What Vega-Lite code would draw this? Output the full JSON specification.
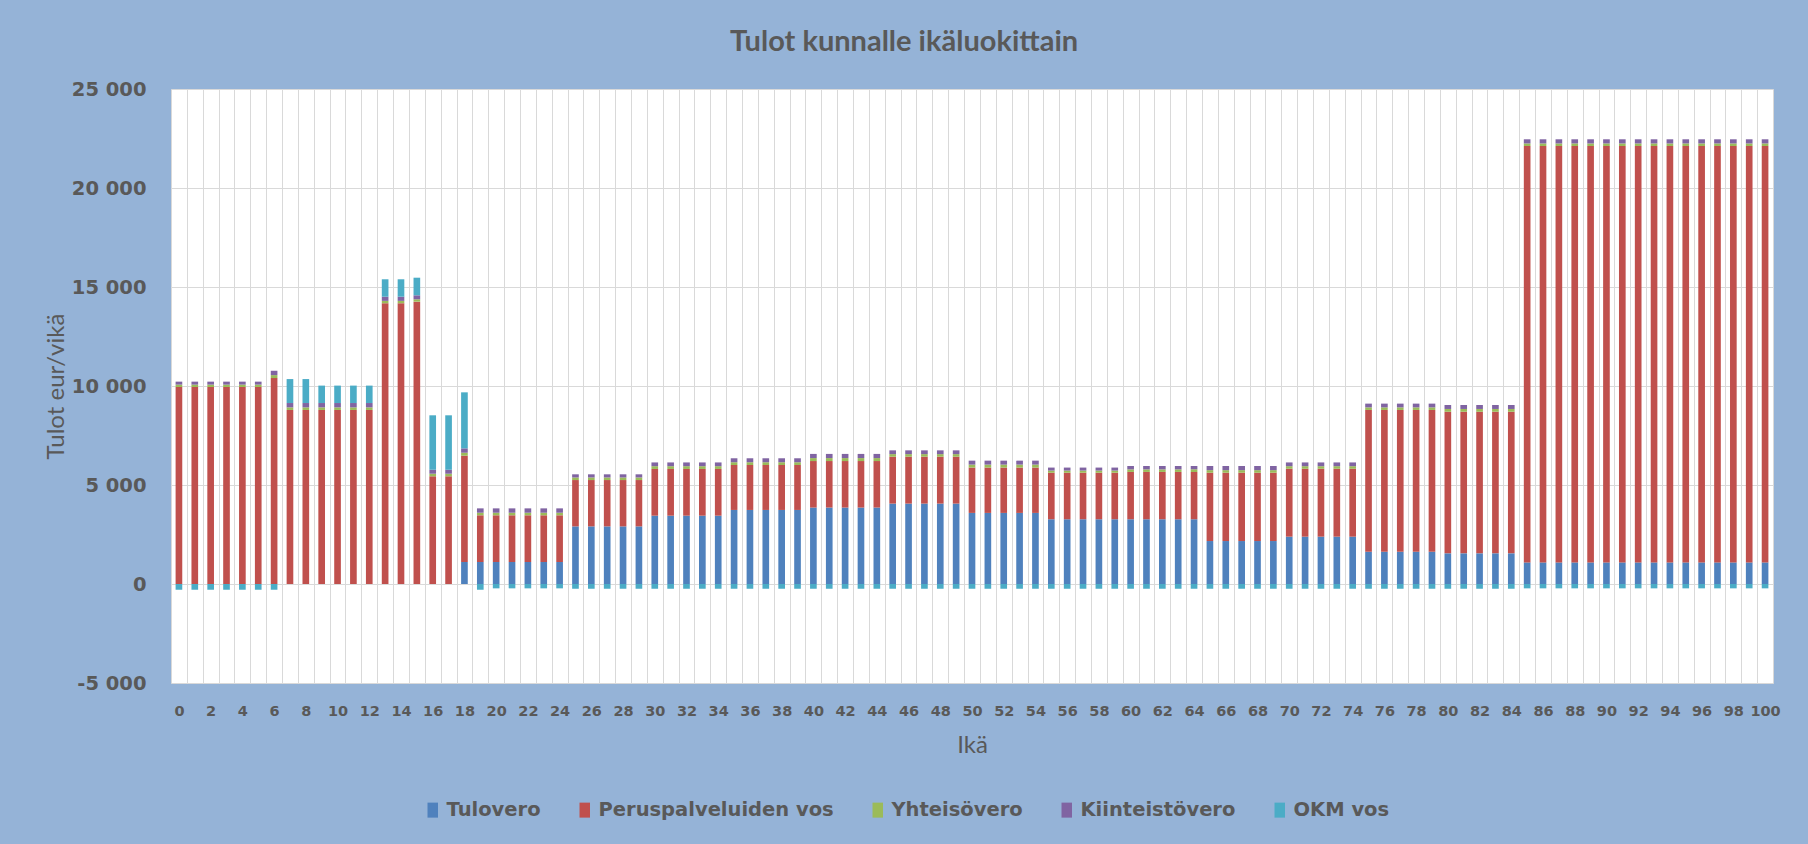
{
"$schema": "https://vega.github.io/schema/vega-lite/v6.json",
"width": 1602, "height": 594,
"autosize": {"type": "none"},
"padding": {"left": 171, "top": 89, "right": 35, "bottom": 161},
"background": "#95B3D7",
"config": {"view": {"fill": "white", "stroke": "#B0C4DE"}, "font": "Lato"},
"title": {"text": "Tulot kunnalle ikäluokittain", "fontSize": 29, "fontWeight": "bold", "color": "#595959", "anchor": "middle", "dx": -68, "offset": 22, "font": "Lato"},
"data": {"values": [
{"Ikä":0,"Tulovero":0,"Peruspalveluiden vos":9950,"Yhteisövero":120,"Kiinteistövero":150,"OKM vos":-290},
{"Ikä":1,"Tulovero":0,"Peruspalveluiden vos":9950,"Yhteisövero":120,"Kiinteistövero":150,"OKM vos":-290},
{"Ikä":2,"Tulovero":0,"Peruspalveluiden vos":9950,"Yhteisövero":120,"Kiinteistövero":150,"OKM vos":-290},
{"Ikä":3,"Tulovero":0,"Peruspalveluiden vos":9950,"Yhteisövero":120,"Kiinteistövero":150,"OKM vos":-290},
{"Ikä":4,"Tulovero":0,"Peruspalveluiden vos":9950,"Yhteisövero":120,"Kiinteistövero":150,"OKM vos":-290},
{"Ikä":5,"Tulovero":0,"Peruspalveluiden vos":9950,"Yhteisövero":120,"Kiinteistövero":150,"OKM vos":-290},
{"Ikä":6,"Tulovero":0,"Peruspalveluiden vos":10400,"Yhteisövero":150,"Kiinteistövero":220,"OKM vos":-290},
{"Ikä":7,"Tulovero":0,"Peruspalveluiden vos":8790,"Yhteisövero":130,"Kiinteistövero":220,"OKM vos":1210},
{"Ikä":8,"Tulovero":0,"Peruspalveluiden vos":8790,"Yhteisövero":130,"Kiinteistövero":220,"OKM vos":1210},
{"Ikä":9,"Tulovero":0,"Peruspalveluiden vos":8790,"Yhteisövero":130,"Kiinteistövero":220,"OKM vos":880},
{"Ikä":10,"Tulovero":0,"Peruspalveluiden vos":8790,"Yhteisövero":130,"Kiinteistövero":220,"OKM vos":880},
{"Ikä":11,"Tulovero":0,"Peruspalveluiden vos":8790,"Yhteisövero":130,"Kiinteistövero":220,"OKM vos":880},
{"Ikä":12,"Tulovero":0,"Peruspalveluiden vos":8790,"Yhteisövero":130,"Kiinteistövero":220,"OKM vos":880},
{"Ikä":13,"Tulovero":0,"Peruspalveluiden vos":14180,"Yhteisövero":120,"Kiinteistövero":210,"OKM vos":880},
{"Ikä":14,"Tulovero":0,"Peruspalveluiden vos":14180,"Yhteisövero":120,"Kiinteistövero":210,"OKM vos":880},
{"Ikä":15,"Tulovero":0,"Peruspalveluiden vos":14260,"Yhteisövero":120,"Kiinteistövero":200,"OKM vos":890},
{"Ikä":16,"Tulovero":0,"Peruspalveluiden vos":5440,"Yhteisövero":130,"Kiinteistövero":200,"OKM vos":2750},
{"Ikä":17,"Tulovero":0,"Peruspalveluiden vos":5440,"Yhteisövero":130,"Kiinteistövero":200,"OKM vos":2750},
{"Ikä":18,"Tulovero":1110,"Peruspalveluiden vos":5370,"Yhteisövero":150,"Kiinteistövero":220,"OKM vos":2830},
{"Ikä":19,"Tulovero":1110,"Peruspalveluiden vos":2360,"Yhteisövero":130,"Kiinteistövero":220,"OKM vos":-290},
{"Ikä":20,"Tulovero":1110,"Peruspalveluiden vos":2360,"Yhteisövero":130,"Kiinteistövero":220,"OKM vos":-220},
{"Ikä":21,"Tulovero":1110,"Peruspalveluiden vos":2360,"Yhteisövero":130,"Kiinteistövero":220,"OKM vos":-220},
{"Ikä":22,"Tulovero":1110,"Peruspalveluiden vos":2360,"Yhteisövero":130,"Kiinteistövero":220,"OKM vos":-220},
{"Ikä":23,"Tulovero":1110,"Peruspalveluiden vos":2360,"Yhteisövero":130,"Kiinteistövero":220,"OKM vos":-220},
{"Ikä":24,"Tulovero":1110,"Peruspalveluiden vos":2360,"Yhteisövero":130,"Kiinteistövero":220,"OKM vos":-220},
{"Ikä":25,"Tulovero":2910,"Peruspalveluiden vos":2340,"Yhteisövero":130,"Kiinteistövero":160,"OKM vos":-240},
{"Ikä":26,"Tulovero":2910,"Peruspalveluiden vos":2340,"Yhteisövero":130,"Kiinteistövero":160,"OKM vos":-240},
{"Ikä":27,"Tulovero":2910,"Peruspalveluiden vos":2340,"Yhteisövero":130,"Kiinteistövero":160,"OKM vos":-240},
{"Ikä":28,"Tulovero":2910,"Peruspalveluiden vos":2340,"Yhteisövero":130,"Kiinteistövero":160,"OKM vos":-240},
{"Ikä":29,"Tulovero":2910,"Peruspalveluiden vos":2340,"Yhteisövero":130,"Kiinteistövero":160,"OKM vos":-240},
{"Ikä":30,"Tulovero":3450,"Peruspalveluiden vos":2360,"Yhteisövero":140,"Kiinteistövero":190,"OKM vos":-240},
{"Ikä":31,"Tulovero":3450,"Peruspalveluiden vos":2360,"Yhteisövero":140,"Kiinteistövero":190,"OKM vos":-240},
{"Ikä":32,"Tulovero":3450,"Peruspalveluiden vos":2360,"Yhteisövero":140,"Kiinteistövero":190,"OKM vos":-240},
{"Ikä":33,"Tulovero":3450,"Peruspalveluiden vos":2360,"Yhteisövero":140,"Kiinteistövero":190,"OKM vos":-240},
{"Ikä":34,"Tulovero":3450,"Peruspalveluiden vos":2360,"Yhteisövero":140,"Kiinteistövero":190,"OKM vos":-240},
{"Ikä":35,"Tulovero":3740,"Peruspalveluiden vos":2270,"Yhteisövero":140,"Kiinteistövero":200,"OKM vos":-240},
{"Ikä":36,"Tulovero":3740,"Peruspalveluiden vos":2270,"Yhteisövero":140,"Kiinteistövero":200,"OKM vos":-240},
{"Ikä":37,"Tulovero":3740,"Peruspalveluiden vos":2270,"Yhteisövero":140,"Kiinteistövero":200,"OKM vos":-240},
{"Ikä":38,"Tulovero":3740,"Peruspalveluiden vos":2270,"Yhteisövero":140,"Kiinteistövero":200,"OKM vos":-240},
{"Ikä":39,"Tulovero":3740,"Peruspalveluiden vos":2270,"Yhteisövero":140,"Kiinteistövero":200,"OKM vos":-240},
{"Ikä":40,"Tulovero":3860,"Peruspalveluiden vos":2350,"Yhteisövero":150,"Kiinteistövero":210,"OKM vos":-240},
{"Ikä":41,"Tulovero":3860,"Peruspalveluiden vos":2350,"Yhteisövero":150,"Kiinteistövero":210,"OKM vos":-240},
{"Ikä":42,"Tulovero":3860,"Peruspalveluiden vos":2350,"Yhteisövero":150,"Kiinteistövero":210,"OKM vos":-240},
{"Ikä":43,"Tulovero":3860,"Peruspalveluiden vos":2350,"Yhteisövero":150,"Kiinteistövero":210,"OKM vos":-240},
{"Ikä":44,"Tulovero":3860,"Peruspalveluiden vos":2350,"Yhteisövero":150,"Kiinteistövero":210,"OKM vos":-240},
{"Ikä":45,"Tulovero":4060,"Peruspalveluiden vos":2370,"Yhteisövero":130,"Kiinteistövero":190,"OKM vos":-240},
{"Ikä":46,"Tulovero":4060,"Peruspalveluiden vos":2370,"Yhteisövero":130,"Kiinteistövero":190,"OKM vos":-240},
{"Ikä":47,"Tulovero":4060,"Peruspalveluiden vos":2370,"Yhteisövero":130,"Kiinteistövero":190,"OKM vos":-240},
{"Ikä":48,"Tulovero":4060,"Peruspalveluiden vos":2370,"Yhteisövero":130,"Kiinteistövero":190,"OKM vos":-240},
{"Ikä":49,"Tulovero":4060,"Peruspalveluiden vos":2370,"Yhteisövero":130,"Kiinteistövero":190,"OKM vos":-240},
{"Ikä":50,"Tulovero":3590,"Peruspalveluiden vos":2290,"Yhteisövero":150,"Kiinteistövero":200,"OKM vos":-240},
{"Ikä":51,"Tulovero":3590,"Peruspalveluiden vos":2290,"Yhteisövero":150,"Kiinteistövero":200,"OKM vos":-240},
{"Ikä":52,"Tulovero":3590,"Peruspalveluiden vos":2290,"Yhteisövero":150,"Kiinteistövero":200,"OKM vos":-240},
{"Ikä":53,"Tulovero":3590,"Peruspalveluiden vos":2290,"Yhteisövero":150,"Kiinteistövero":200,"OKM vos":-240},
{"Ikä":54,"Tulovero":3590,"Peruspalveluiden vos":2290,"Yhteisövero":150,"Kiinteistövero":200,"OKM vos":-240},
{"Ikä":55,"Tulovero":3270,"Peruspalveluiden vos":2350,"Yhteisövero":110,"Kiinteistövero":150,"OKM vos":-240},
{"Ikä":56,"Tulovero":3270,"Peruspalveluiden vos":2350,"Yhteisövero":110,"Kiinteistövero":150,"OKM vos":-240},
{"Ikä":57,"Tulovero":3270,"Peruspalveluiden vos":2350,"Yhteisövero":110,"Kiinteistövero":150,"OKM vos":-240},
{"Ikä":58,"Tulovero":3270,"Peruspalveluiden vos":2350,"Yhteisövero":110,"Kiinteistövero":150,"OKM vos":-240},
{"Ikä":59,"Tulovero":3270,"Peruspalveluiden vos":2350,"Yhteisövero":110,"Kiinteistövero":150,"OKM vos":-240},
{"Ikä":60,"Tulovero":3270,"Peruspalveluiden vos":2390,"Yhteisövero":130,"Kiinteistövero":170,"OKM vos":-240},
{"Ikä":61,"Tulovero":3270,"Peruspalveluiden vos":2390,"Yhteisövero":130,"Kiinteistövero":170,"OKM vos":-240},
{"Ikä":62,"Tulovero":3270,"Peruspalveluiden vos":2390,"Yhteisövero":130,"Kiinteistövero":170,"OKM vos":-240},
{"Ikä":63,"Tulovero":3270,"Peruspalveluiden vos":2390,"Yhteisövero":130,"Kiinteistövero":170,"OKM vos":-240},
{"Ikä":64,"Tulovero":3270,"Peruspalveluiden vos":2390,"Yhteisövero":130,"Kiinteistövero":170,"OKM vos":-240},
{"Ikä":65,"Tulovero":2170,"Peruspalveluiden vos":3450,"Yhteisövero":130,"Kiinteistövero":210,"OKM vos":-240},
{"Ikä":66,"Tulovero":2170,"Peruspalveluiden vos":3450,"Yhteisövero":130,"Kiinteistövero":210,"OKM vos":-240},
{"Ikä":67,"Tulovero":2170,"Peruspalveluiden vos":3450,"Yhteisövero":130,"Kiinteistövero":210,"OKM vos":-240},
{"Ikä":68,"Tulovero":2170,"Peruspalveluiden vos":3450,"Yhteisövero":130,"Kiinteistövero":210,"OKM vos":-240},
{"Ikä":69,"Tulovero":2170,"Peruspalveluiden vos":3450,"Yhteisövero":130,"Kiinteistövero":210,"OKM vos":-240},
{"Ikä":70,"Tulovero":2390,"Peruspalveluiden vos":3430,"Yhteisövero":130,"Kiinteistövero":190,"OKM vos":-240},
{"Ikä":71,"Tulovero":2390,"Peruspalveluiden vos":3430,"Yhteisövero":130,"Kiinteistövero":190,"OKM vos":-240},
{"Ikä":72,"Tulovero":2390,"Peruspalveluiden vos":3430,"Yhteisövero":130,"Kiinteistövero":190,"OKM vos":-240},
{"Ikä":73,"Tulovero":2390,"Peruspalveluiden vos":3430,"Yhteisövero":130,"Kiinteistövero":190,"OKM vos":-240},
{"Ikä":74,"Tulovero":2390,"Peruspalveluiden vos":3430,"Yhteisövero":130,"Kiinteistövero":190,"OKM vos":-240},
{"Ikä":75,"Tulovero":1630,"Peruspalveluiden vos":7160,"Yhteisövero":130,"Kiinteistövero":190,"OKM vos":-240},
{"Ikä":76,"Tulovero":1630,"Peruspalveluiden vos":7160,"Yhteisövero":130,"Kiinteistövero":190,"OKM vos":-240},
{"Ikä":77,"Tulovero":1630,"Peruspalveluiden vos":7160,"Yhteisövero":130,"Kiinteistövero":190,"OKM vos":-240},
{"Ikä":78,"Tulovero":1630,"Peruspalveluiden vos":7160,"Yhteisövero":130,"Kiinteistövero":190,"OKM vos":-240},
{"Ikä":79,"Tulovero":1630,"Peruspalveluiden vos":7160,"Yhteisövero":130,"Kiinteistövero":190,"OKM vos":-240},
{"Ikä":80,"Tulovero":1550,"Peruspalveluiden vos":7150,"Yhteisövero":140,"Kiinteistövero":200,"OKM vos":-240},
{"Ikä":81,"Tulovero":1550,"Peruspalveluiden vos":7150,"Yhteisövero":140,"Kiinteistövero":200,"OKM vos":-240},
{"Ikä":82,"Tulovero":1550,"Peruspalveluiden vos":7150,"Yhteisövero":140,"Kiinteistövero":200,"OKM vos":-240},
{"Ikä":83,"Tulovero":1550,"Peruspalveluiden vos":7150,"Yhteisövero":140,"Kiinteistövero":200,"OKM vos":-240},
{"Ikä":84,"Tulovero":1550,"Peruspalveluiden vos":7150,"Yhteisövero":140,"Kiinteistövero":200,"OKM vos":-240},
{"Ikä":85,"Tulovero":1090,"Peruspalveluiden vos":21030,"Yhteisövero":130,"Kiinteistövero":210,"OKM vos":-220},
{"Ikä":86,"Tulovero":1090,"Peruspalveluiden vos":21030,"Yhteisövero":130,"Kiinteistövero":210,"OKM vos":-220},
{"Ikä":87,"Tulovero":1090,"Peruspalveluiden vos":21030,"Yhteisövero":130,"Kiinteistövero":210,"OKM vos":-220},
{"Ikä":88,"Tulovero":1090,"Peruspalveluiden vos":21030,"Yhteisövero":130,"Kiinteistövero":210,"OKM vos":-220},
{"Ikä":89,"Tulovero":1090,"Peruspalveluiden vos":21030,"Yhteisövero":130,"Kiinteistövero":210,"OKM vos":-220},
{"Ikä":90,"Tulovero":1090,"Peruspalveluiden vos":21030,"Yhteisövero":130,"Kiinteistövero":210,"OKM vos":-220},
{"Ikä":91,"Tulovero":1090,"Peruspalveluiden vos":21030,"Yhteisövero":130,"Kiinteistövero":210,"OKM vos":-220},
{"Ikä":92,"Tulovero":1090,"Peruspalveluiden vos":21030,"Yhteisövero":130,"Kiinteistövero":210,"OKM vos":-220},
{"Ikä":93,"Tulovero":1090,"Peruspalveluiden vos":21030,"Yhteisövero":130,"Kiinteistövero":210,"OKM vos":-220},
{"Ikä":94,"Tulovero":1090,"Peruspalveluiden vos":21030,"Yhteisövero":130,"Kiinteistövero":210,"OKM vos":-220},
{"Ikä":95,"Tulovero":1090,"Peruspalveluiden vos":21030,"Yhteisövero":130,"Kiinteistövero":210,"OKM vos":-220},
{"Ikä":96,"Tulovero":1090,"Peruspalveluiden vos":21030,"Yhteisövero":130,"Kiinteistövero":210,"OKM vos":-220},
{"Ikä":97,"Tulovero":1090,"Peruspalveluiden vos":21030,"Yhteisövero":130,"Kiinteistövero":210,"OKM vos":-220},
{"Ikä":98,"Tulovero":1090,"Peruspalveluiden vos":21030,"Yhteisövero":130,"Kiinteistövero":210,"OKM vos":-220},
{"Ikä":99,"Tulovero":1090,"Peruspalveluiden vos":21030,"Yhteisövero":130,"Kiinteistövero":210,"OKM vos":-220},
{"Ikä":100,"Tulovero":1090,"Peruspalveluiden vos":21030,"Yhteisövero":130,"Kiinteistövero":210,"OKM vos":-220}
]},
"transform": [
  {"fold": ["Tulovero", "Peruspalveluiden vos", "Yhteisövero", "Kiinteistövero", "OKM vos"], "as": ["Sarja", "Arvo"]},
  {"calculate": "indexof(['Tulovero', 'Peruspalveluiden vos', 'Yhteisövero', 'Kiinteistövero', 'OKM vos'], datum.Sarja)", "as": "pinojarjestys"}
],
"mark": {"type": "bar", "width": {"band": 0.42}},
"encoding": {
  "x": {"field": "Ikä", "type": "ordinal", "scale": {"paddingInner": 0, "paddingOuter": 0},
    "axis": {"title": "Ikä", "tickBand": "extent", "labelExpr": "datum.value % 2 == 0 ? datum.label : ''", "labelAngle": 0, "labelOverlap": false, "labelFont": "DejaVu Sans", "labelFontSize": 14.5, "labelFontWeight": "bold", "labelColor": "#595959", "labelPadding": 21, "ticks": false, "domain": false, "grid": true, "gridColor": "#D9D9D9", "gridWidth": 1, "titleFont": "Lato", "titleFontSize": 24, "titleFontWeight": "normal", "titleColor": "#595959", "titlePadding": 16}},
  "y": {"field": "Arvo", "type": "quantitative", "stack": "zero", "scale": {"domain": [-5000, 25000], "nice": false},
    "axis": {"title": "Tulot eur/vikä", "values": [-5000, 0, 5000, 10000, 15000, 20000, 25000], "labelExpr": "datum.value == 0 ? '0' : (datum.value < 0 ? '-' : '') + replace(format(abs(datum.value), ','), ',', ' ')", "labelFont": "DejaVu Sans", "labelFontSize": 19.5, "labelFontWeight": "bold", "labelColor": "#595959", "labelPadding": 25, "ticks": false, "domain": false, "gridColor": "#D9D9D9", "titleFont": "Lato", "titleFontSize": 24, "titleFontWeight": "normal", "titleColor": "#595959", "titlePadding": 3}},
  "order": {"field": "pinojarjestys", "type": "quantitative", "sort": "ascending"},
  "color": {"field": "Sarja", "type": "nominal", "sort": ["Tulovero", "Peruspalveluiden vos", "Yhteisövero", "Kiinteistövero", "OKM vos"],
    "scale": {"domain": ["Tulovero", "Peruspalveluiden vos", "Yhteisövero", "Kiinteistövero", "OKM vos"], "range": ["#4F81BD", "#C0504D", "#9BBB59", "#8064A2", "#4BACC6"]},
    "legend": {"title": null, "orient": "none", "legendX": 252, "legendY": 711, "direction": "horizontal", "labelFont": "DejaVu Sans", "labelFontSize": 19.5, "labelFontWeight": "bold", "labelColor": "#595959", "labelLimit": 500, "symbolType": "M-0.7,-1H0.7V1H-0.7Z", "symbolSize": 225, "symbolStrokeWidth": 0, "columnPadding": 34, "labelOffset": 4}}
}
}
